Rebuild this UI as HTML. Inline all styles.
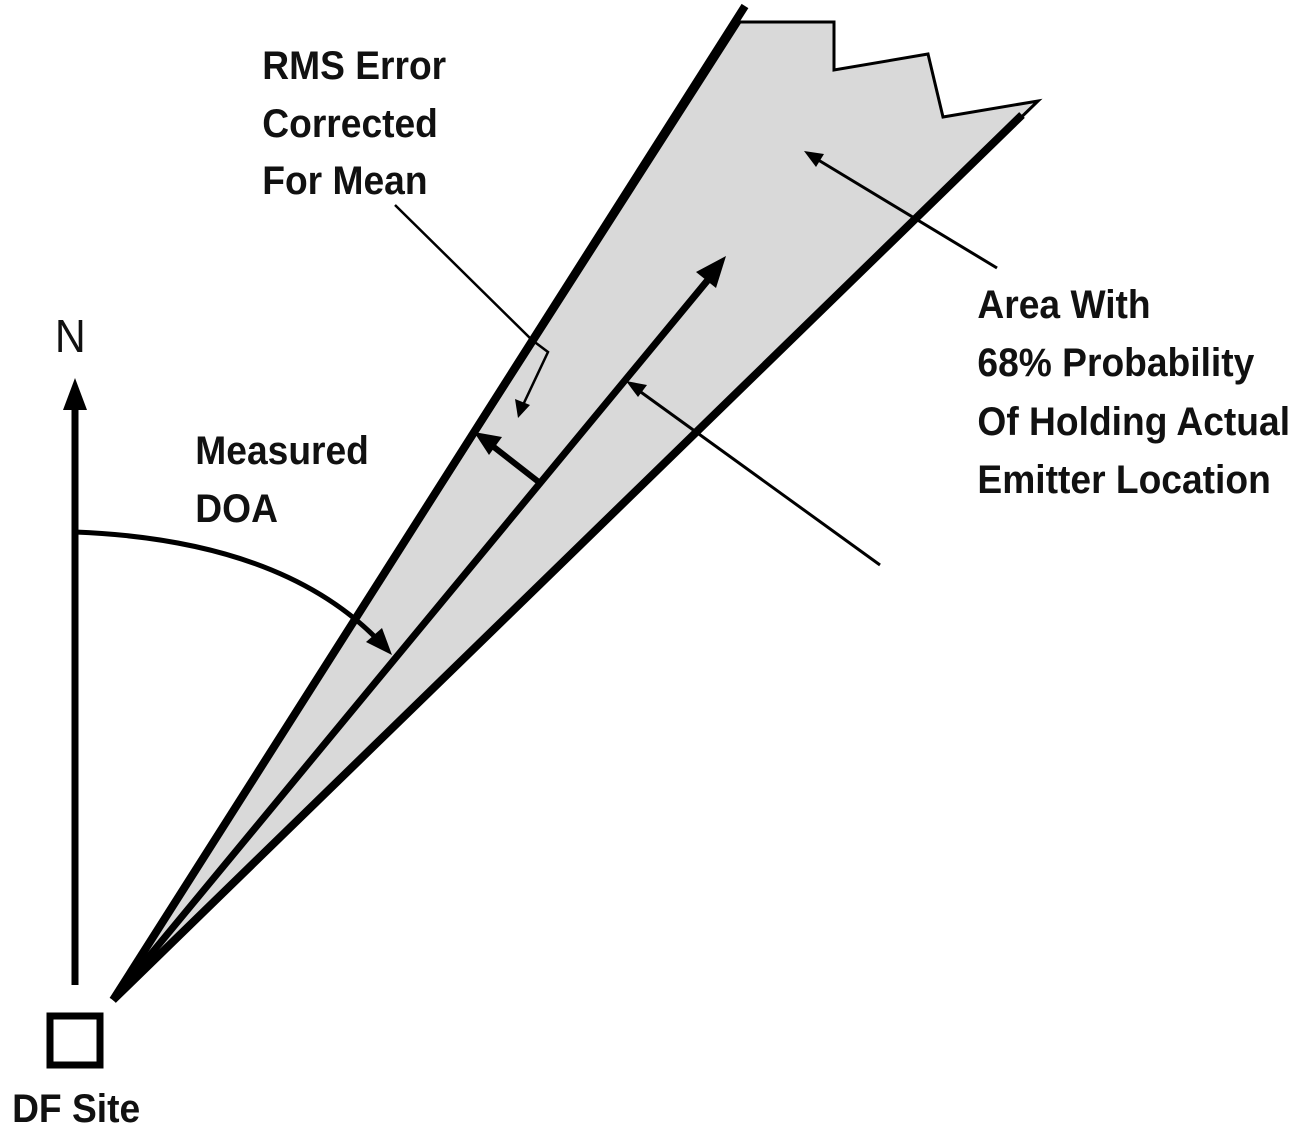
<!DOCTYPE html>
<html><head><style>body{margin:0;background:#fff}svg{display:block}text{font-family:"Liberation Sans",sans-serif;font-size:40px;font-weight:bold;fill:#111}</style></head>
<body>
<svg width="1315" height="1131" viewBox="0 0 1315 1131" xmlns="http://www.w3.org/2000/svg">
<polygon points="113,1000 740,22 834,22 834,70 928,54 943,117 1038,101 113,1000" fill="#d9d9d9" stroke="#000" stroke-width="3" stroke-linejoin="miter"/>
<line x1="113" y1="1000" x2="745" y2="6" stroke="#000" stroke-width="8"/>
<line x1="113" y1="1000" x2="1022" y2="115" stroke="#000" stroke-width="8"/>
<line x1="113" y1="1000" x2="712" y2="275" stroke="#000" stroke-width="7"/>
<polygon points="726,256 696,272 716,288" fill="#000"/>
<line x1="540" y1="483" x2="490" y2="444" stroke="#000" stroke-width="6"/>
<polygon points="474,432 502,437 489,455" fill="#000"/>
<polyline points="395,205 532,340 548,352 523,405" fill="none" stroke="#000" stroke-width="2.5"/>
<polygon points="518,418 515,399 530,405" fill="#000"/>
<line x1="997" y1="268" x2="815" y2="158" stroke="#000" stroke-width="3"/>
<polygon points="804,151 824,154 816,167" fill="#000"/>
<line x1="880" y1="565" x2="638" y2="390" stroke="#000" stroke-width="3"/>
<polygon points="626,381 647,385 638,397" fill="#000"/>
<line x1="75" y1="985" x2="75" y2="405" stroke="#000" stroke-width="7"/>
<polygon points="75,378 63,410 87,410" fill="#000"/>
<path d="M75,532 Q280,540 378,640" fill="none" stroke="#000" stroke-width="5"/>
<polygon points="392,655 366,642 382,628" fill="#000"/>
<rect x="50" y="1016" width="50" height="49" fill="none" stroke="#000" stroke-width="7"/>
<g transform="scale(0.93,1)">
<text x="59" y="352" style="font-size:46px;font-weight:normal">N</text>
<text x="13" y="1122">DF Site</text>
<text x="282" y="79">RMS Error</text>
<text x="282" y="137">Corrected</text>
<text x="282" y="194">For Mean</text>
<text x="210" y="464">Measured</text>
<text x="210" y="522">DOA</text>
<text x="1051" y="318">Area With</text>
<text x="1051" y="376">68% Probability</text>
<text x="1051" y="435">Of Holding Actual</text>
<text x="1051" y="493">Emitter Location</text>
</g>
</svg>
</body></html>
